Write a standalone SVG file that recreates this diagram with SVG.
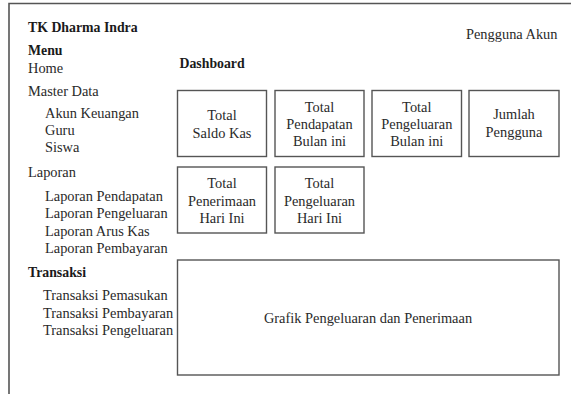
<svg xmlns="http://www.w3.org/2000/svg" width="571" height="394" viewBox="0 0 571 394">
<style>
text{font-family:"Liberation Serif","Times New Roman",serif;font-size:14.4px;fill:#2a2a2a}
.b{font-weight:bold;font-size:13.8px;fill:#1a1a1a}
.c{text-anchor:middle}
.box{fill:#fff;stroke:#555;stroke-width:1.4}
.frame{fill:none;stroke:#555;stroke-width:1.6}
</style>
<rect width="571" height="394" fill="#fff"/>
<g id="frame"><path class="frame" d="M9,394 V3.5 H571"/></g>
<g id="sidebar">
<text class="b" x="28" y="32">TK Dharma Indra</text>
<text class="b" x="28" y="55">Menu</text>
<text x="28" y="73">Home</text>
<text x="28" y="96">Master Data</text>
<text x="45" y="118">Akun Keuangan</text>
<text x="45" y="135">Guru</text>
<text x="45" y="152">Siswa</text>
<text x="28" y="177">Laporan</text>
<text x="45" y="200.5">Laporan Pendapatan</text>
<text x="45" y="218">Laporan Pengeluaran</text>
<text x="45" y="236">Laporan Arus Kas</text>
<text x="45" y="253">Laporan Pembayaran</text>
<text class="b" x="28" y="277">Transaksi</text>
<text x="43" y="300">Transaksi Pemasukan</text>
<text x="43" y="317.5">Transaksi Pembayaran</text>
<text x="43" y="335">Transaksi Pengeluaran</text>
</g>
<g id="header">
<text x="557.5" y="39" text-anchor="end">Pengguna Akun</text>
<text class="b" x="179.5" y="68">Dashboard</text>
</g>
<g id="saldo-kas">
<rect class="box" x="177.5" y="90.5" width="89" height="66"/>
<text class="c" x="222" y="120">Total</text>
<text class="c" x="222" y="138">Saldo Kas</text>
</g>
<g id="pendapatan-bulan">
<rect class="box" x="275" y="90.5" width="89" height="66"/>
<text class="c" x="319.5" y="112">Total</text>
<text class="c" x="319.5" y="129">Pendapatan</text>
<text class="c" x="319.5" y="146">Bulan ini</text>
</g>
<g id="pengeluaran-bulan">
<rect class="box" x="372" y="90.5" width="89.5" height="66"/>
<text class="c" x="416.8" y="112">Total</text>
<text class="c" x="416.8" y="129">Pengeluaran</text>
<text class="c" x="416.8" y="146">Bulan ini</text>
</g>
<g id="jumlah-pengguna">
<rect class="box" x="469" y="90.5" width="90" height="66"/>
<text class="c" x="514" y="119">Jumlah</text>
<text class="c" x="514" y="137">Pengguna</text>
</g>
<g id="penerimaan-hari">
<rect class="box" x="177.5" y="167" width="89" height="66"/>
<text class="c" x="222" y="188">Total</text>
<text class="c" x="222" y="205.5">Penerimaan</text>
<text class="c" x="222" y="223">Hari Ini</text>
</g>
<g id="pengeluaran-hari">
<rect class="box" x="275" y="167" width="89" height="66"/>
<text class="c" x="319.5" y="188">Total</text>
<text class="c" x="319.5" y="205.5">Pengeluaran</text>
<text class="c" x="319.5" y="223">Hari Ini</text>
</g>
<g id="grafik">
<rect class="box" x="177.5" y="260" width="381.5" height="115"/>
<text class="c" x="368" y="323">Grafik Pengeluaran dan Penerimaan</text>
</g>
<g id="connectors"/>
</svg>
